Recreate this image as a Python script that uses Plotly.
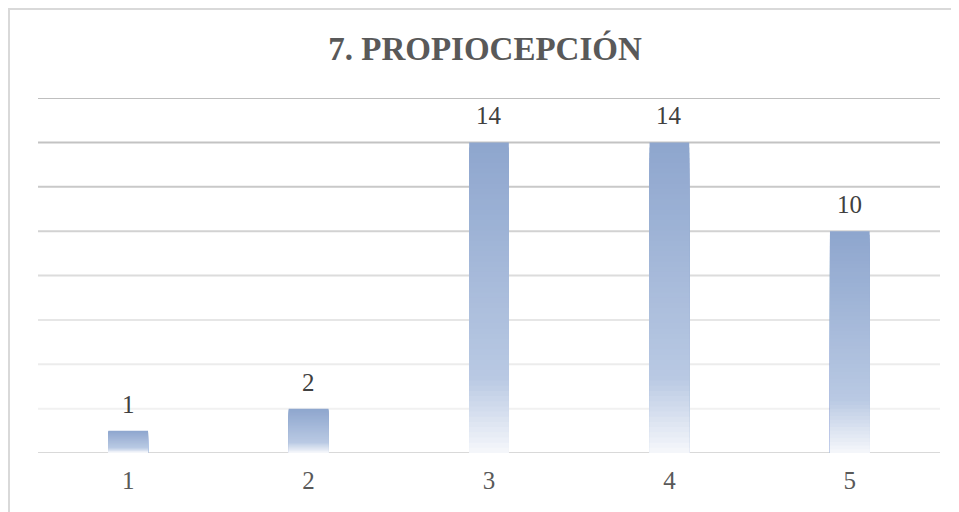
import plotly.graph_objects as go

categories = ["1", "2", "3", "4", "5"]
values = [1, 2, 14, 14, 10]
y_ticks = [0, 2, 4, 6, 8, 10, 12, 14, 16]
title_text = "7. PROPIOCEPCIÓN"

# gradient colour stops (fraction from top of bar -> rgb)
stops = [(0.0, (142, 166, 206)), (0.75, (185, 201, 227)), (1.0, (248, 249, 252))]
grid_colors = ["#d9d9d9", "#f1f1f1", "#ececec", "#e6e6e6", "#dcdcdc", "#d2d2d2", "#c9c9c9", "#c3c3c3", "#bfbfbf"]

def color_at(t):
    for (t0, c0), (t1, c1) in zip(stops[:-1], stops[1:]):
        if t0 <= t <= t1:
            f = (t - t0) / (t1 - t0) if t1 > t0 else 0
            c = [round(a + (b - a) * f) for a, b in zip(c0, c1)]
            return f"rgb({c[0]},{c[1]},{c[2]})"
    c = stops[-1][1]
    return f"rgb({c[0]},{c[1]},{c[2]})"

N = 60
fig = go.Figure()
for k in range(N):
    frac = (N - k) / N
    t = k / N
    fig.add_trace(go.Bar(
        x=categories,
        y=[v * frac for v in values],
        width=0.22,
        marker=dict(color=color_at(t), line=dict(width=0)),
        hoverinfo="skip",
        showlegend=False,
    ))

FONT = "Liberation Serif, Times New Roman, serif"

annotations = []
for i, v in enumerate(values):
    annotations.append(dict(x=i, y=v, xref="x", yref="y", text=str(v), showarrow=False,
                            yanchor="bottom", yshift=11,
                            font=dict(family=FONT, size=25, color="#404040")))

W, H = 951, 504
L, R, T, B = 30, 19, 90, 59
PW, PH = W - L - R, H - T - B

shapes = []
for yv, col in zip(y_ticks, grid_colors):
    shapes.append(dict(type="line", xref="paper", yref="y", x0=0, x1=1, y0=yv, y1=yv,
                       line=dict(color=col, width=2), layer="below"))
# chart border
shapes.append(dict(type="rect", xref="paper", yref="paper",
                   x0=(1 - L) / PW, x1=(W + 20 - L) / PW, y0=-(B + 20) / PH, y1=(PH + T - 1) / PH,
                   line=dict(color="#d9d9d9", width=2), layer="below"))

fig.update_layout(
    width=W, height=H,
    margin=dict(l=L, r=R, t=T, b=B, autoexpand=False),
    barmode="overlay",
    plot_bgcolor="white", paper_bgcolor="white",
    title=dict(text=title_text, x=477 / W, xanchor="center", y=1 - 40 / H, yanchor="middle",
               font=dict(family=FONT, size=33, color="#595959", weight="bold")),
    xaxis=dict(showgrid=False, zeroline=False, showline=False, ticks="",
               tickfont=dict(family=FONT, size=25, color="#595959"),
               ticklabelstandoff=10),
    yaxis=dict(range=[0, 16], tickvals=y_ticks, showticklabels=False, showgrid=False,
               zeroline=False, showline=False),
    annotations=annotations,
    shapes=shapes,
)

fig.write_html("out.html")
